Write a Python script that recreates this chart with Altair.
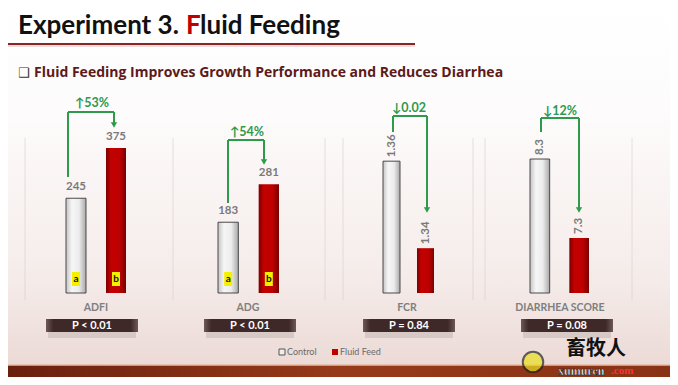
import altair as alt
import pandas as pd

# ---------------- data ----------------
categories = ["ADFI", "ADG", "FCR", "DIARRHEA SCORE"]
groups = ["Control", "Fluid Feed"]
control_values = [245, 183, 1.36, 8.3]
fluid_values = [375, 281, 1.34, 7.3]
control_labels = ["245", "183", "1.36", "8.3"]
fluid_labels = ["375", "281", "1.34", "7.3"]
control_letters = ["a", "a", "", ""]
fluid_letters = ["b", "b", "", ""]
changes = ["↑53%", "↑54%", "↓0.02", "↓12%"]
p_values = ["P < 0.01", "P < 0.01", "P = 0.84", "P = 0.08"]
title_parts = ["Experiment 3.", "F", "luid Feeding"]
subtitle = "Fluid Feeding Improves Growth Performance and Reduces Diarrhea"
legend_labels = ["Control", "Fluid Feed"]

# ---------------- layout / style ----------------
W, H = 662, 369
BASE = 285
FONT = "Lato"
GREEN = "#2f9a4c"
x_ranges = [[58, 118], [210, 271], [375, 426], [522, 581]]
y_domains = [[0, 737], [0, 737], [1.3297, 1.3952], [6.604, 10.212]]
rotated = [False, False, True, True]
cat_centers = [88, 240, 399, 552]
p_centers = [84, 242, 401, 559]
# left x, start y, top y, right x, tip y, label x, label y
brackets = [
    (60, 169, 104, 106, 120, 84, 95),
    (220, 195, 132, 256, 157, 239, 124),
    (385, 124, 108, 419, 205, 401, 100),
    (533, 124, 110, 571, 205, 552, 103),
]
separators = [17, 165, 317, 335, 465, 477, 624]

one = alt.Data(values=[{"k": 1}])


def hgrad(stops):
    return alt.Gradient(gradient="linear", x1=0, x2=1, y1=0, y2=0,
                        stops=[alt.GradientStop(offset=o, color=c) for o, c in stops])


def vgrad(stops):
    return alt.Gradient(gradient="linear", x1=0, x2=0, y1=0, y2=1,
                        stops=[alt.GradientStop(offset=o, color=c) for o, c in stops])


def txt(text, x, y, size, color, weight="bold", align="left", baseline="alphabetic", font=FONT, **kw):
    return alt.Chart(one).mark_text(text=text, fontSize=size, color=color, fontWeight=weight,
                                    align=align, baseline=baseline, font=font, **kw).encode(
        x=alt.value(x), y=alt.value(y))


def rule(x, x2, y, y2, color, width):
    return alt.Chart(one).mark_rule(color=color, strokeWidth=width).encode(
        x=alt.value(x), x2=alt.value(x2), y=alt.value(y), y2=alt.value(y2))


layers = []

# background
layers.append(alt.Chart(one).mark_rect(fill=vgrad([(0, "#ffffff"), (0.3, "#fdfbfb"), (0.75, "#f5ecea"), (1, "#ecdad6")])).encode(
    x=alt.value(0), x2=alt.value(W), y=alt.value(0), y2=alt.value(357)))
layers.append(alt.Chart(one).mark_rect(fill=hgrad([(0, "#6a200f"), (0.5, "#963a1a"), (1, "#8a3216")])).encode(
    x=alt.value(0), x2=alt.value(W), y=alt.value(357), y2=alt.value(H)))
layers.append(rule(0, W, 357, 357, "#e8b8a4", 1.5))

for sx in separators:
    layers.append(alt.Chart(one).mark_rule(color="#d8cccc", strokeWidth=1, opacity=0.6).encode(
        x=alt.value(sx), y=alt.value(130), y2=alt.value(292)))

# header
layers.append(txt(title_parts[0], 10, 26, 26, "#111111"))
layers.append(txt(title_parts[1], 178, 26, 26, "#c00000"))
layers.append(txt(title_parts[2], 192, 26, 26, "#111111"))
layers.append(rule(0, 407, 36, 36, "#8b2525", 2))
layers.append(rule(0, 407, 38, 38, "#e8d0d0", 1.5))
layers.append(txt("❑", 10, 69, 13, "#333333", weight="normal", font="DejaVu Sans"))
layers.append(txt(subtitle, 26, 69, 14, "#5c1a1a", font="Open Sans"))

ctrl_fill = hgrad([(0, "#c4c4c4"), (0.3, "#f6f6f6"), (0.65, "#ececec"), (1, "#a8a8a8")])
red_fill = hgrad([(0, "#7c0000"), (0.25, "#c40000"), (0.7, "#bc0000"), (1, "#780000")])
pbox_fill = hgrad([(0, "#6e5858"), (0.08, "#3e2828"), (0.92, "#3e2828"), (1, "#6e5858")])

for i, cat in enumerate(categories):
    df = pd.DataFrame({
        "group": groups,
        "value": [control_values[i], fluid_values[i]],
        "label": [control_labels[i], fluid_labels[i]],
        "letter": [control_letters[i], fluid_letters[i]],
    })
    xs = alt.Scale(domain=groups, range=x_ranges[i], paddingInner=0.5, paddingOuter=0)
    ys = alt.Scale(domain=y_domains[i], range=[BASE, 0], zero=False, nice=False)
    base = alt.Chart(df).encode(x=alt.X("group:N", scale=xs, axis=None))
    ybar = alt.Y("value:Q", scale=ys, axis=None)
    ctrl = base.transform_filter(alt.datum.group == "Control").mark_bar(
        fill=ctrl_fill, stroke="#4a4a4a", strokeWidth=1).encode(y=ybar, y2=alt.datum(y_domains[i][0]))
    red = base.transform_filter(alt.datum.group == "Fluid Feed").mark_bar(
        fill=red_fill).encode(y=ybar, y2=alt.datum(y_domains[i][0]))
    if rotated[i]:
        lab = base.mark_text(angle=270, align="left", baseline="middle", dx=4, fontSize=11.5,
                             fontWeight="bold", color="#7a7a7a", font=FONT).encode(y=ybar, text="label:N")
    else:
        lab = base.mark_text(baseline="middle", dy=-11, fontSize=11.5, fontWeight="bold",
                             color="#7a7a7a", font=FONT).encode(y=ybar, text="label:N")
    sub = [ctrl, red, lab]
    if control_letters[i]:
        box = base.mark_bar(width=8, fill="#f4f000").encode(y=alt.value(264), y2=alt.value(278))
        let = base.mark_text(fontSize=10, fontWeight="bold", color="#111111", font=FONT,
                             baseline="middle").encode(y=alt.value(271), text="letter:N")
        sub += [box, let]
    layers.append(alt.layer(*sub))

    # panel annotations
    lx, y0, yt, rx, ytip, tx, ty = brackets[i]
    layers.append(rule(lx, lx, y0, yt, GREEN, 2))
    layers.append(rule(lx, rx, yt, yt, GREEN, 2))
    layers.append(rule(rx, rx, yt, ytip - 4, GREEN, 2))
    layers.append(alt.Chart(one).mark_point(shape="triangle-down", filled=True, size=40, color=GREEN, opacity=1).encode(
        x=alt.value(rx), y=alt.value(ytip - 3)))
    layers.append(txt(changes[i], tx, ty, 12.5, GREEN, align="center", baseline="middle"))
    layers.append(txt(cat, cat_centers[i], 300, 10.5, "#7f7f7f", align="center", baseline="middle"))
    pc = p_centers[i]
    layers.append(alt.Chart(one).mark_rect(fill="#000000", opacity=0.10).encode(
        x=alt.value(pc - 44), x2=alt.value(pc + 44), y=alt.value(322), y2=alt.value(330)))
    layers.append(alt.Chart(one).mark_rect(fill=pbox_fill).encode(
        x=alt.value(pc - 46), x2=alt.value(pc + 46), y=alt.value(311), y2=alt.value(324)))
    layers.append(txt(p_values[i], pc, 318, 11, "#ffffff", align="center", baseline="middle"))

# legend
layers.append(alt.Chart(one).mark_rect(fill="#eeeeee", stroke="#555555", strokeWidth=1).encode(
    x=alt.value(271), x2=alt.value(277), y=alt.value(341), y2=alt.value(347)))
layers.append(txt(legend_labels[0], 279, 344, 9, "#6a6a6a", weight="normal", baseline="middle"))
layers.append(alt.Chart(one).mark_rect(fill="#c00000").encode(
    x=alt.value(324), x2=alt.value(330), y=alt.value(341), y2=alt.value(347)))
layers.append(txt(legend_labels[1], 332, 344, 9, "#6a6a6a", weight="normal", baseline="middle"))

# watermark
layers.append(alt.Chart(one).mark_point(shape="circle", filled=True, size=420, color="#e8e020", stroke="#222222", strokeWidth=2).encode(
    x=alt.value(525), y=alt.value(354)))
layers.append(txt("畜牧人", 558, 341, 20, "#111111", baseline="middle", font="Noto Sans CJK SC"))
layers.append(txt("xumuren", 550, 363, 12, "#ffffff", baseline="middle", font="Liberation Serif", stroke="#222222", strokeWidth=0.5))
layers.append(txt(".com", 603, 363, 11, "#ff3030", baseline="middle", font="Liberation Serif"))

chart = alt.layer(*layers).resolve_scale(x="independent", y="independent").properties(
    width=W, height=H, padding=0, autosize=alt.AutoSizeParams(type="none")
).configure_view(stroke=None)

chart.save("out.html", embed_options={"renderer": "svg", "actions": False})
